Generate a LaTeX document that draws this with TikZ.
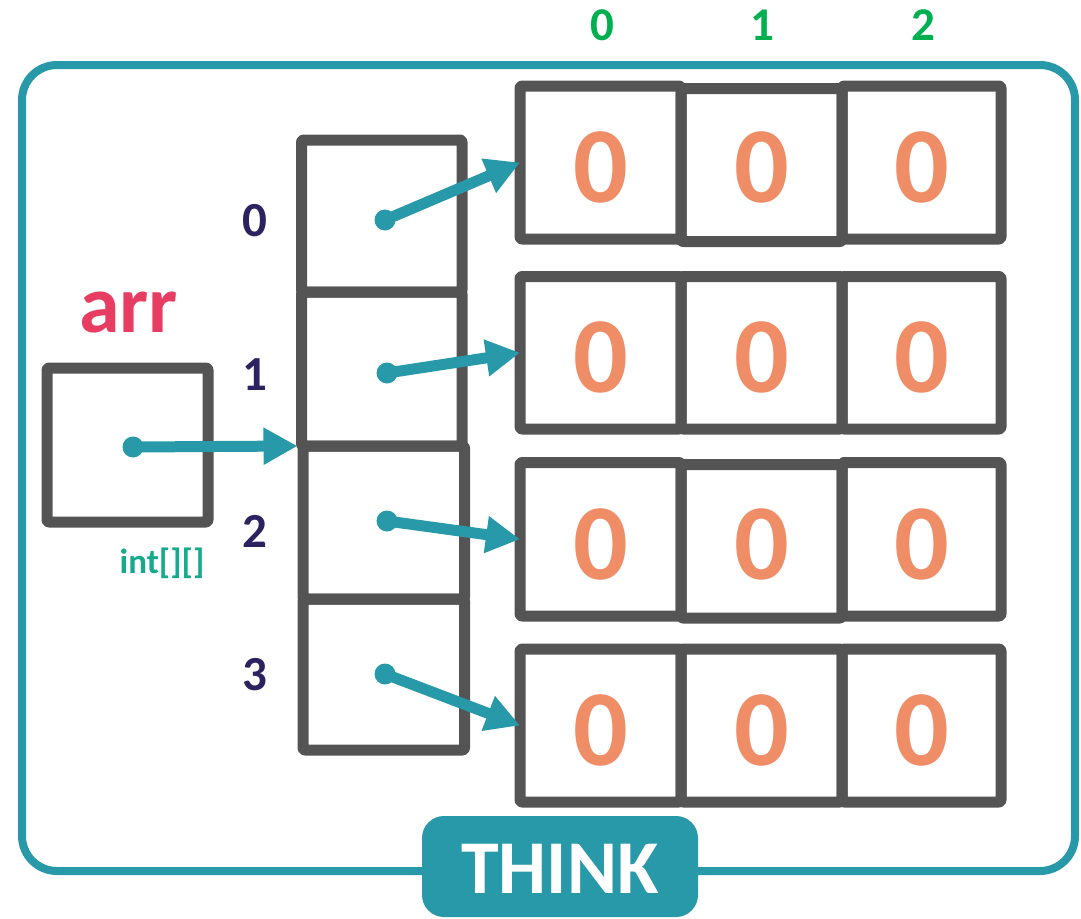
\documentclass[tikz,border=0pt]{standalone}
\usepackage{fontspec}
\setmainfont{Carlito}
\usetikzlibrary{arrows.meta}
\definecolor{tealc}{HTML}{2899A8}
\definecolor{grayc}{HTML}{545454}
\definecolor{orangec}{HTML}{EF8D67}
\definecolor{redc}{HTML}{E83D63}
\definecolor{navyc}{HTML}{2C2260}
\definecolor{greenc}{HTML}{00B050}
\definecolor{typec}{HTML}{16AA8C}
\begin{document}
\begin{tikzpicture}[x=1pt,y=-1pt,
  cell/.style={draw=grayc, line width=11pt, rounded corners=2pt, line join=round,
    inner sep=0pt, outer sep=0pt, minimum width=161pt, minimum height=153pt},
  zero/.style={text=orangec, inner sep=0pt, font=\fontsize{108}{108}\selectfont\bfseries},
  idx/.style={text=navyc, inner sep=0pt, font=\fontsize{49}{49}\selectfont\bfseries},
  colidx/.style={text=greenc, inner sep=0pt, font=\fontsize{47}{47}\selectfont\bfseries},
  ptr/.style={draw=tealc, line width=11pt, -{Triangle[length=34pt,width=35pt]}},
  dot/.style={fill=tealc},
  frame/.style={draw=tealc, line width=8pt, rounded corners=35pt},
  think/.style={fill=tealc, rounded corners=22pt, inner sep=0pt, minimum width=276pt,
    minimum height=101pt, text=white, font=\fontsize{76}{76}\selectfont\bfseries}
]
\useasboundingbox (0,0) rectangle (1081,918);
% outer frame
\draw[frame] (22,65) rectangle (1075,871);
\node[think] (think) at (560,866.5) {};
\node[text=white, inner sep=0pt, font=\fontsize{76}{76}\selectfont\bfseries] (thinktxt) at (560,869) {THINK};

% arr variable box
\node[cell, minimum width=161pt, minimum height=154pt] (arrbox) at (127.5,445) {};
\node[anchor=base, text=redc, inner sep=0pt, font=\fontsize{82}{82}\selectfont\bfseries] (arrname) at (128.5,332) {arr};
\node[anchor=base, text=typec, inner sep=0pt, font=\fontsize{35}{35}\selectfont\bfseries] (arrtype) at (162,573) {int[][]};

% column of references
\node[cell, minimum width=160.5pt, minimum height=152pt] (c0) at (381.75,216) {};
\node[cell, minimum width=160.5pt, minimum height=154pt] (c1) at (381.75,369) {};
\node[cell, minimum width=161.5pt, minimum height=153pt] (c2) at (383.75,522.5) {};
\node[cell, minimum width=161.5pt, minimum height=151pt] (c3) at (383.75,674.5) {};

\node[idx] (i0) at (254.5,221) {0};
\node[idx] (i1) at (254.5,375) {1};
\node[idx] (i2) at (254.5,531) {2};
\node[idx] (i3) at (254.5,675) {3};

% rows
\node[cell] (r0c0) at (600.5,162.5) {};
\node[cell] (r0c1) at (761.5,165) {};
\node[cell, minimum width=159pt] (r0c2) at (921.5,162.5) {};
\node[cell, minimum height=152.5pt] (r1c0) at (600.5,352.75) {};
\node[cell, minimum height=152.5pt] (r1c1) at (761.5,352.75) {};
\node[cell, minimum width=159pt, minimum height=152.5pt] (r1c2) at (921.5,352.75) {};
\node[cell, minimum height=153.5pt] (r2c0) at (600.5,539.25) {};
\node[cell, minimum height=153.5pt] (r2c1) at (761.5,541.25) {};
\node[cell, minimum width=159pt, minimum height=153.5pt] (r2c2) at (921.5,539.25) {};
\node[cell] (r3c0) at (600.5,725.5) {};
\node[cell] (r3c1) at (761.5,725.5) {};
\node[cell, minimum width=159pt] (r3c2) at (921.5,725.5) {};

\foreach \r/\y in {0/167,1/357,2/544,3/730}{
  \node[zero] (z\r a) at (601,\y) {0};
  \node[zero] (z\r b) at (762,\y) {0};
  \node[zero] (z\r c) at (922,\y) {0};
}

\node[colidx] (k0) at (602,25) {0};
\node[colidx] (k1) at (762,25) {1};
\node[colidx] (k2) at (923,25) {2};

% pointers
\coordinate (da) at (133,447);
\coordinate (d0) at (385,220);
\coordinate (d1) at (387,373);
\coordinate (d2) at (387,521);
\coordinate (d3) at (385,674);
\coordinate (atip) at ([xshift=-4pt]c1.south west);

\draw[ptr] (da) -- (atip);
\draw[ptr] (d0) -- (r0c0.west);
\draw[ptr] (d1) -- (r1c0.west);
\draw[ptr] (d2) -- (r2c0.west);
\draw[ptr] (d3) -- (r3c0.west);
\foreach \d in {da,d0,d1,d2,d3}{\fill[dot] (\d) circle (10.5pt);}
\end{tikzpicture}
\end{document}
